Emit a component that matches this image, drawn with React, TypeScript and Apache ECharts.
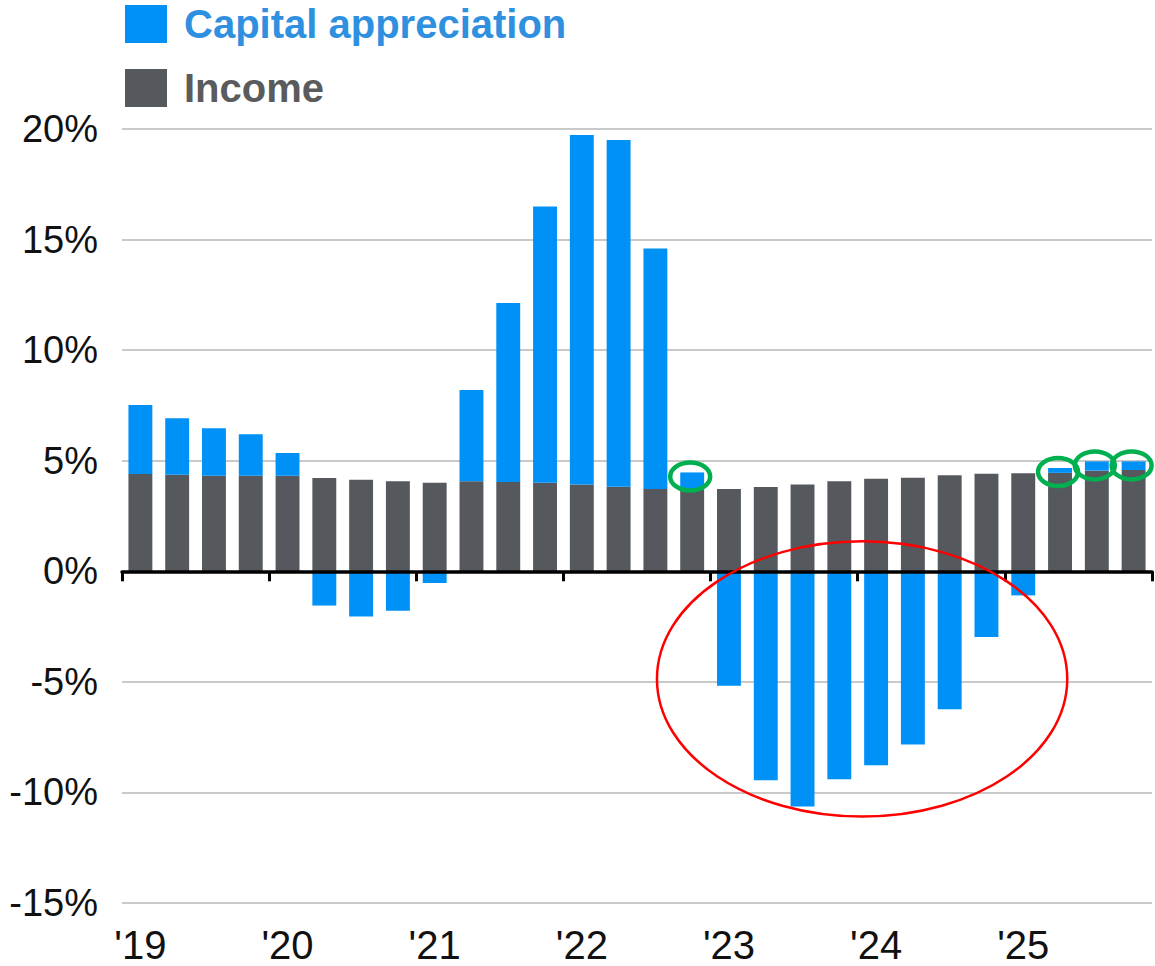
import React, { useEffect, useRef } from "react";
import * as echarts from "echarts";

const quarters: string[] = [
  "Q1 2019", "Q2 2019", "Q3 2019", "Q4 2019",
  "Q1 2020", "Q2 2020", "Q3 2020", "Q4 2020",
  "Q1 2021", "Q2 2021", "Q3 2021", "Q4 2021",
  "Q1 2022", "Q2 2022", "Q3 2022", "Q4 2022",
  "Q1 2023", "Q2 2023", "Q3 2023", "Q4 2023",
  "Q1 2024", "Q2 2024", "Q3 2024", "Q4 2024",
  "Q1 2025", "Q2 2025", "Q3 2025", "Q4 2025",
];

const income: number[] = [
  4.40, 4.36, 4.32, 4.32,
  4.32, 4.22, 4.14, 4.07,
  4.00, 4.07, 4.04, 4.00,
  3.93, 3.82, 3.72, 3.68,
  3.72, 3.81, 3.93, 4.07,
  4.19, 4.23, 4.34, 4.41,
  4.43, 4.45, 4.55, 4.58,
];

const capitalAppreciation: number[] = [
  3.12, 2.56, 2.15, 1.88,
  1.03, -1.55, -2.05, -1.78,
  -0.53, 4.13, 8.09, 12.5,
  15.8, 15.68, 10.88, 0.79,
  -5.18, -9.45, -10.64, -9.4,
  -8.77, -7.83, -6.24, -2.97,
  -1.09, 0.22, 0.42, 0.39,
];

const yTicks = { min: -15, max: 20, interval: 5 };

// quarters flagged with green circles, and the range highlighted by the red ellipse
const greenFlagged: number[] = [15, 25, 26, 27];
const redRange: number[] = [16, 24];

const BLUE = "#0091f7";
const GRAY = "#55595d";
const FONT = "'Liberation Sans', Arial, Helvetica, sans-serif";
const NARROW = "'Liberation Sans Narrow', 'Arial Narrow', 'Liberation Sans', Arial, sans-serif";

export default function App() {
  const ref = useRef<HTMLDivElement>(null);

  useEffect(() => {
    if (!ref.current) return;
    const chart = echarts.init(ref.current, null, { renderer: "svg" });
    chart.setOption({
      animation: false,
      backgroundColor: "#ffffff",
      legend: {
        orient: "vertical",
        left: 120,
        top: -1,
        itemWidth: 42,
        itemHeight: 38,
        itemGap: 24,
        icon: "rect",
        selectedMode: false,
        textStyle: {
          fontFamily: FONT,
          fontSize: 40,
          fontWeight: "bold",
          padding: [0, 0, 0, 12],
        },
        data: [
          { name: "Capital appreciation", textStyle: { color: "#2f90e0" } },
          { name: "Income", textStyle: { color: "#5a5b5d" } },
        ],
      },
      grid: { left: 122, right: 3, top: 129, bottom: 63, containLabel: false },
      xAxis: [
        {
          type: "category",
          data: quarters,
          position: "bottom",
          axisLine: { show: false, onZero: false },
          axisTick: { show: false },
          splitLine: { show: false },
          axisLabel: {
            interval: 3,
            margin: 22,
            fontFamily: NARROW,
            fontSize: 40,
            color: "#111111",
            formatter: (v: string) => "'" + v.slice(-2),
          },
        },
        {
          type: "category",
          data: quarters,
          position: "bottom",
          z: 10,
          axisLine: { show: true, onZero: true, lineStyle: { color: "#000000", width: 3.5 } },
          axisTick: { show: true, interval: 3, length: 10, lineStyle: { color: "#000000", width: 3 } },
          axisLabel: { show: false },
          splitLine: { show: false },
        },
      ],
      yAxis: {
        type: "value",
        min: yTicks.min,
        max: yTicks.max,
        interval: yTicks.interval,
        axisLine: { show: false },
        axisTick: { show: false },
        splitLine: { show: true, lineStyle: { color: "#c9c9c9", width: 2 } },
        axisLabel: {
          margin: 24,
          fontFamily: FONT,
          fontSize: 38,
          color: "#111111",
          formatter: (v: number) => v + "%",
        },
      },
      series: [
        {
          name: "Income",
          type: "bar",
          stack: "total",
          data: income,
          barCategoryGap: "35%",
          itemStyle: { color: GRAY },
        },
        {
          name: "Capital appreciation",
          type: "bar",
          stack: "total",
          data: capitalAppreciation,
          barCategoryGap: "35%",
          itemStyle: { color: BLUE },
        },
      ],
    });

    const px = (i: number, v: number) =>
      chart.convertToPixel({ gridIndex: 0 }, [i, v]) as number[];

    const greens = greenFlagged.map((i) => {
      const total = income[i] + Math.max(capitalAppreciation[i], 0);
      const p = px(i, total);
      return {
        type: "ellipse",
        z: 100,
        shape: { cx: p[0] - 2, cy: p[1] + 4, rx: 20, ry: 14 },
        style: { fill: "none", stroke: "#00b050", lineWidth: 4.5 },
      };
    });

    const a = px(redRange[0], 0);
    const b = px(redRange[1], 0);
    const lowest = Math.min(...capitalAppreciation.slice(redRange[0], redRange[1] + 1));
    const bottom = px(0, lowest);
    const cx = (a[0] + b[0]) / 2 - 14;
    const rx = (b[0] - a[0]) / 2 + 58;
    const top = a[1] - 30;
    const bot = bottom[1] + 10;
    const red = {
      type: "ellipse",
      z: 100,
      shape: { cx, cy: (top + bot) / 2, rx, ry: (bot - top) / 2 },
      style: { fill: "none", stroke: "#ff0000", lineWidth: 2.5 },
    };

    chart.setOption({ graphic: [red, ...greens] });

    return () => chart.dispose();
  }, []);

  return (
    <div
      ref={ref}
      style={{ position: "fixed", left: 0, top: 0, width: 1155, height: 966, background: "#fff" }}
    />
  );
}
